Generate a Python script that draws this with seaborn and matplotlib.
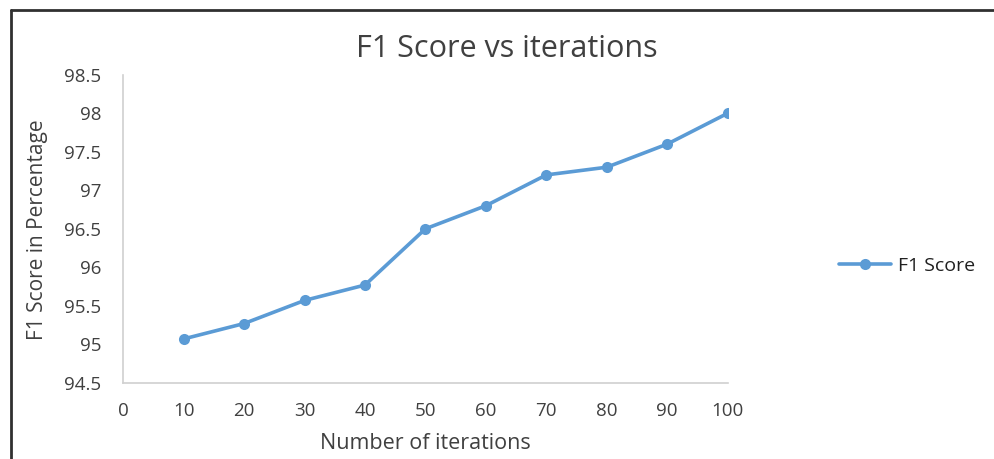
import pandas as pd
import seaborn as sns
import matplotlib.pyplot as plt
from matplotlib.lines import Line2D

sns.set_theme(style="white")
plt.rcParams['font.family'] = ['Open Sans', 'DejaVu Sans']

iterations = [10, 20, 30, 40, 50, 60, 70, 80, 90, 100]
f1_score = [95.07, 95.27, 95.57, 95.77, 96.5, 96.8, 97.2, 97.3, 97.6, 98.0]
x_ticks = [0, 10, 20, 30, 40, 50, 60, 70, 80, 90, 100]
y_ticks = [94.5, 95, 95.5, 96, 96.5, 97, 97.5, 98, 98.5]

df = pd.DataFrame({"iterations": iterations, "F1 Score": f1_score})

blue = "#5B9BD5"
text_col = "#404040"

fig = plt.figure(figsize=(9.94, 4.59), dpi=100)
ax = fig.add_axes([0.124, 0.166, 0.608, 0.671])

sns.lineplot(data=df, x="iterations", y="F1 Score", ax=ax, color=blue,
             linewidth=2.6, marker="o", markersize=8, markeredgewidth=0,
             label="F1 Score", legend=False)

ax.set_xlim(0, 100)
ax.set_ylim(94.5, 98.5)
ax.set_xticks(x_ticks)
ax.set_xticklabels([str(t) for t in x_ticks])
ax.set_yticks(y_ticks)
ax.set_yticklabels([f"{t:g}" for t in y_ticks])
ax.tick_params(axis="both", length=0, labelsize=13.5, labelcolor=text_col)
ax.tick_params(axis="y", pad=16)
ax.tick_params(axis="x", pad=14)
ax.grid(False)
for s in ["top", "right"]:
    ax.spines[s].set_visible(False)
for s in ["left", "bottom"]:
    ax.spines[s].set_color("#D0D0D0")
    ax.spines[s].set_linewidth(1.2)

ax.set_xlabel("")
ax.set_ylabel("")
fig.text(0.428, 0.033, "Number of iterations", ha="center", va="center",
         fontsize=15.5, color=text_col)
fig.text(0.038, 0.50, "F1 Score in Percentage", ha="center", va="center",
         rotation=90, fontsize=15, color=text_col)
fig.text(0.51, 0.893, "F1 Score vs iterations", ha="center", va="center",
         fontsize=22, color=text_col)

handle = Line2D([], [], color=blue, linewidth=2.6, marker="o",
                markersize=8, markeredgewidth=0)
fig.legend([handle], ["F1 Score"], loc="center left",
           bbox_to_anchor=(0.826, 0.42), frameon=False, fontsize=14,
           handlelength=2.7, handletextpad=0.35, labelcolor="#202020")

# chart area border (spreadsheet screenshot)
fig.add_artist(Line2D([0.011, 0.011], [0, 0.978], color="#303030",
                      linewidth=2, transform=fig.transFigure))
fig.add_artist(Line2D([0.011, 1], [0.978, 0.978], color="#303030",
                      linewidth=2, transform=fig.transFigure))

fig.savefig("out.png", dpi=100)
